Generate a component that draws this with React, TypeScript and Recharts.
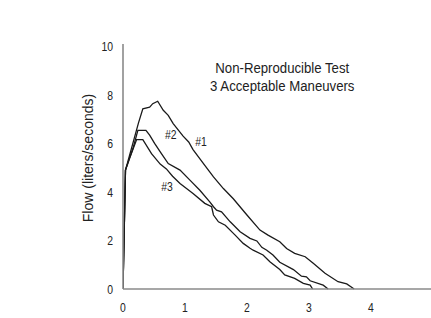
import React from 'react';
import { LineChart, Line, XAxis, YAxis, ReferenceDot } from 'recharts';

// flow-volume traces, [volume, flow]
const maneuver1: [number, number][] = [
  [0, 0], [0.04, 4.9], [0.1, 5.45], [0.18, 6.2], [0.25, 6.85], [0.32, 7.43], [0.43, 7.5],
  [0.48, 7.64], [0.56, 7.74], [0.65, 7.37], [0.73, 7.16], [0.81, 6.82], [0.97, 6.3],
  [1.06, 6.06], [1.13, 5.75], [1.32, 5.1], [1.46, 4.62], [1.62, 4.14], [1.78, 3.72],
  [2.0, 3.05], [2.21, 2.43], [2.34, 2.22], [2.53, 1.95], [2.64, 1.67], [2.77, 1.47],
  [2.94, 1.33], [3.07, 1.06], [3.26, 0.65], [3.47, 0.3], [3.61, 0.21], [3.73, 0],
];
const maneuver2: [number, number][] = [
  [0, 0], [0.04, 4.9], [0.1, 5.35], [0.16, 5.79], [0.24, 6.54], [0.37, 6.54], [0.43, 6.34],
  [0.51, 6.0], [0.62, 5.58], [0.73, 5.17], [0.92, 4.9], [1.08, 4.49], [1.24, 4.07],
  [1.4, 3.59], [1.46, 3.39], [1.51, 3.25], [1.59, 3.18], [1.73, 2.77], [1.89, 2.36],
  [2.05, 2.09], [2.16, 1.98], [2.24, 1.72], [2.32, 1.6], [2.42, 1.4], [2.53, 1.1],
  [2.75, 0.8], [2.88, 0.53], [2.96, 0.5], [3.02, 0.34], [3.23, 0.16], [3.31, 0],
];
const maneuver3: [number, number][] = [
  [0, 0], [0.04, 4.9], [0.1, 5.35], [0.22, 6.16], [0.32, 6.16], [0.46, 5.58], [0.6, 5.15],
  [0.7, 4.95], [0.8, 4.65], [0.92, 4.35], [1.13, 3.94], [1.32, 3.53], [1.43, 3.39],
  [1.46, 3.05], [1.54, 2.77], [1.65, 2.63], [1.81, 2.22], [1.94, 1.88], [2.05, 1.68],
  [2.1, 1.6], [2.26, 1.4], [2.37, 1.12], [2.53, 0.8], [2.61, 0.58], [2.77, 0.44],
  [2.91, 0.23], [3.02, 0.16], [3.06, 0],
];

const xTicks = [0, 1, 2, 3, 4];
const yTicks = [0, 2, 4, 6, 8, 10];
const titleLines = ['Non-Reproducible Test', '3 Acceptable Maneuvers'];
const curveLabels: { text: string; x: number; y: number }[] = [
  { text: '#1', x: 1.26, y: 6.09 },
  { text: '#2', x: 0.77, y: 6.38 },
  { text: '#3', x: 0.71, y: 4.24 },
];

const font = "'Liberation Sans', Arial, sans-serif";
const ink = '#222';
const toRows = (pts: [number, number][]) => pts.map(([x, y]) => ({ x, y }));

// Liberation Sans squeezed sideways, close to the narrow face of the original
const Narrow = ({ x, y, size, sx, anchor, dy, children }: any) => (
  <text transform={`translate(${x} ${y}) scale(${sx} 1)`} textAnchor={anchor} dy={dy}
    fill={ink} fontSize={size} fontFamily={font}>
    {children}
  </text>
);

const XTick = (p: any) => (
  <Narrow x={p.x} y={p.y} size={13} sx={0.8} anchor="middle" dy="0.71em">{p.payload.value}</Narrow>
);
const YTick = (p: any) => (
  <Narrow x={p.x} y={p.y} size={13} sx={0.8} anchor="end" dy="0.355em">{p.payload.value}</Narrow>
);

const AxisTitle = (props: any) => {
  const { viewBox } = props;
  const cx = viewBox.x + viewBox.width - 35;
  const cy = 158;
  return (
    <text x={cx} y={cy} transform={`rotate(-90 ${cx} ${cy})`} textAnchor="middle"
      dominantBaseline="central" fill={ink} fontSize={14} fontFamily={font}>
      Flow (liters/seconds)
    </text>
  );
};

const centerLabel = (text: string, size: number, sx: number) => (props: any) => {
  const { viewBox } = props;
  const cx = viewBox.x + (viewBox.width || 0) / 2;
  const cy = viewBox.y + (viewBox.height || 0) / 2;
  return <Narrow x={cx} y={cy} size={size} sx={sx} anchor="middle" dy="0.355em">{text}</Narrow>;
};

export default function App() {
  return (
    <div style={{ position: 'absolute', left: 0, top: 0, background: '#fff' }}>
      <LineChart width={431} height={318} margin={{ top: 44, right: 0, bottom: 4, left: 0 }}>
        <XAxis type="number" dataKey="x" domain={[0, 4.97]} ticks={xTicks} tickLine={false}
          axisLine={{ stroke: '#8a8a8a', strokeWidth: 1.6 }} tick={<XTick />} tickMargin={8} height={25}
          allowDataOverflow />
        <YAxis type="number" dataKey="y" domain={[0, 10.1]} ticks={yTicks} tickLine={false}
          axisLine={{ stroke: '#8a8a8a', strokeWidth: 1.6 }} tick={<YTick />} tickMargin={4} width={123}
          label={<AxisTitle />} />
        {[maneuver1, maneuver2, maneuver3].map((m, i) => (
          <Line key={i} data={toRows(m)} dataKey="y" type="linear" stroke="#1a1a1a" strokeWidth={1.3}
            dot={false} activeDot={false} isAnimationActive={false} />
        ))}
        {curveLabels.map((c) => (
          <ReferenceDot key={c.text} x={c.x} y={c.y} r={0} fill="none" stroke="none"
            label={centerLabel(c.text, 13, 0.8)} />
        ))}
        {titleLines.map((t, i) => (
          <ReferenceDot key={t} x={2.57} y={9.14 - i * 0.76} r={0} fill="none" stroke="none"
            label={centerLabel(t, 15, 0.88)} />
        ))}
      </LineChart>
    </div>
  );
}
